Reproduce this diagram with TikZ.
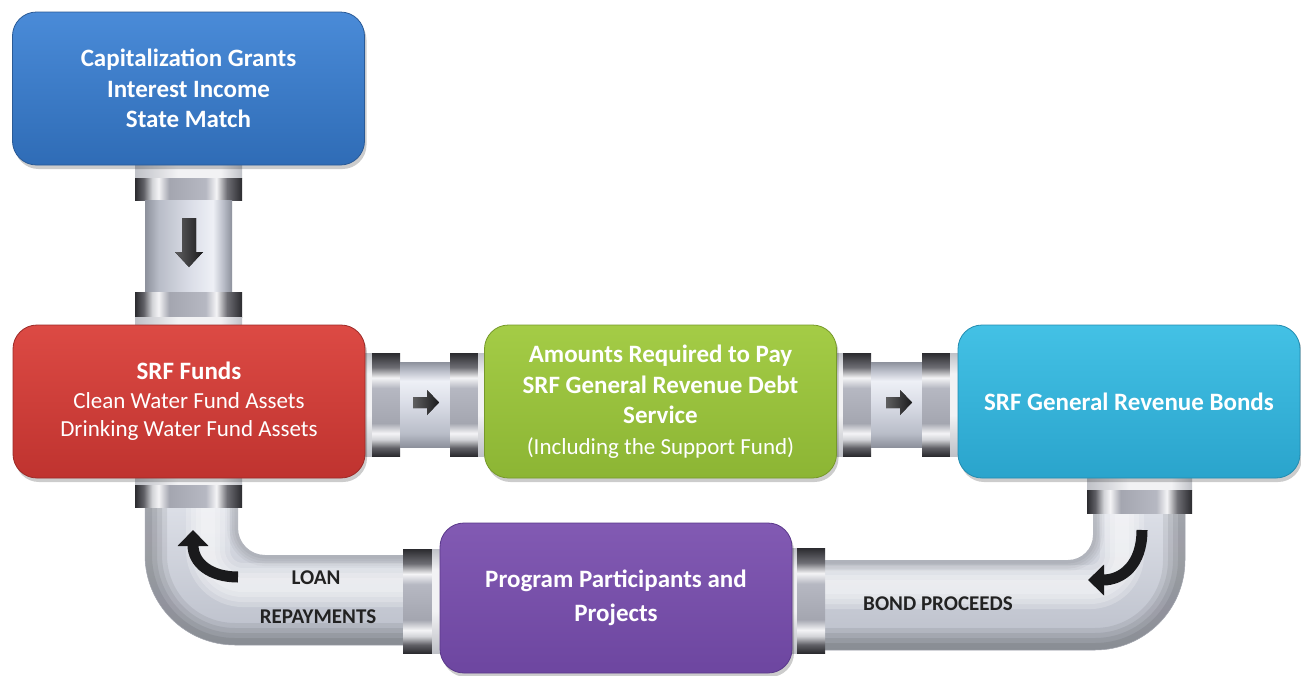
\documentclass[tikz,border=0pt]{standalone}
\usepackage{fontspec}
\setmainfont{Carlito}
\usetikzlibrary{shadows,arrows.meta}
\definecolor{pA}{HTML}{8D919C}
\definecolor{pB}{HTML}{B9BDC8}
\definecolor{pC}{HTML}{D9DCE6}
\definecolor{pD}{HTML}{EEF0F6}
\definecolor{fA}{HTML}{2B2B2F}
\definecolor{fB}{HTML}{606066}
\definecolor{fC}{HTML}{D2D3D7}
\definecolor{fD}{HTML}{F4F4F6}
\definecolor{fE}{HTML}{A4A6B0}
\definecolor{fF}{HTML}{B6B8C2}
\definecolor{fG}{HTML}{6E6E74}
\definecolor{cA}{HTML}{BFC1C7}
\definecolor{cB}{HTML}{F2F2F4}
\definecolor{eA}{HTML}{DCDFE7}
\definecolor{eB}{HTML}{BBBFCA}
\definecolor{arr}{HTML}{1A1A1C}
\definecolor{lbl}{HTML}{222222}
\definecolor{blueT}{HTML}{4A8BD8}\definecolor{blueB}{HTML}{2F6CB6}\definecolor{blueD}{HTML}{2A5A96}
\definecolor{redT}{HTML}{DC4A44}\definecolor{redB}{HTML}{BF332F}\definecolor{redD}{HTML}{9C2A27}
\definecolor{greenT}{HTML}{A4CC46}\definecolor{greenB}{HTML}{8CB534}\definecolor{greenD}{HTML}{76992A}
\definecolor{cyanT}{HTML}{43C1E5}\definecolor{cyanB}{HTML}{2AA4CC}\definecolor{cyanD}{HTML}{228CB0}
\definecolor{purT}{HTML}{825AB3}\definecolor{purB}{HTML}{6D46A0}\definecolor{purD}{HTML}{5A388A}
\pgfdeclarehorizontalshading{pipeshade}{100bp}{color(0bp)=(pA); color(25bp)=(pA); color(33bp)=(pB); color(50bp)=(pC); color(64bp)=(pD); color(70bp)=(pB); color(75bp)=(pA); color(100bp)=(pA)}
\pgfdeclarehorizontalshading{flangeshade}{100bp}{color(0bp)=(fA); color(25bp)=(fA); color(29bp)=(fB); color(33bp)=(fC); color(36bp)=(fD); color(41bp)=(fE); color(58bp)=(fF); color(63bp)=(fD); color(68bp)=(fG); color(75bp)=(fA); color(100bp)=(fA)}
\pgfdeclarehorizontalshading{collarshade}{100bp}{color(0bp)=(cA); color(25bp)=(cA); color(45bp)=(cB); color(65bp)=(cB); color(75bp)=(cA); color(100bp)=(cA)}
\tikzset{
  box/.style n args={3}{rounded corners=24pt, minimum width=352pt, minimum height=153pt,
    inner sep=0pt, align=center, text=white, draw=#3, line width=0.8pt,
    top color=#1, bottom color=#2,
    drop shadow={shadow xshift=2pt, shadow yshift=-4pt, fill=black, opacity=0.2}},
  bigfont/.style={font=\fontsize{25}{30.5}\selectfont\bfseries},
  vflange/.style={shading=flangeshade},
  hflange/.style={shading=flangeshade, shading angle=90},
  vbody/.style={shading=pipeshade},
  hbody/.style={shading=pipeshade, shading angle=90},
  vcollar/.style={shading=collarshade},
  hcollar/.style={shading=collarshade, shading angle=90},
  elbowfill/.style={top color=eA, bottom color=eB},
  blockarrow/.style={left color=arr!70!white, right color=arr},
  curvearrow/.style={draw=arr, line width=11pt, -{Triangle[width=30pt,length=16pt]}},
  pipelabel/.style={text=lbl, font=\fontsize{21}{26}\selectfont\bfseries, inner sep=0pt},
  soft/.style={line cap=butt},
}
\begin{document}
\begin{tikzpicture}[x=1pt,y=-1pt]
\useasboundingbox (0,0) rectangle (1301,675);
\fill[white] (0,0) rectangle (1301,675);

% ---- vertical pipe between blue and red ----
\shade[vcollar] (135,164) rectangle (242,178);
\shade[vflange] (135,178) rectangle (242,200);
\shade[vbody] (145,200) rectangle (232,292);
\shade[vflange] (135,292) rectangle (242,317);
\shade[vcollar] (135,317) rectangle (242,327);
\fill[blockarrow] (182,218) -- (196,218) -- (196,252) -- (203,252) -- (189,267) -- (175,252) -- (182,252) -- cycle;

% ---- horizontal pipe red -> green ----
\shade[hcollar] (363,353) rectangle (372,456);
\shade[hflange] (372,353) rectangle (400,456);
\shade[hbody] (400,362) rectangle (450,447);
\shade[hflange] (450,353) rectangle (478,456);
\shade[hcollar] (478,353) rectangle (487,456);
\fill[blockarrow] (413,397) -- (427,397) -- (427,390) -- (439,402.5) -- (427,415) -- (427,408) -- (413,408) -- cycle;

% ---- horizontal pipe green -> cyan ----
\shade[hcollar] (834,353) rectangle (843,456);
\shade[hflange] (843,353) rectangle (871,456);
\shade[hbody] (871,362) rectangle (922,447);
\shade[hflange] (922,353) rectangle (950,456);
\shade[hcollar] (950,353) rectangle (960,456);
\fill[blockarrow] (886,397) -- (900,397) -- (900,390) -- (912,402.5) -- (900,415) -- (900,408) -- (886,408) -- cycle;

% ---- left elbow (loan repayments) ----
\shade[elbowfill] (145,505) -- (145,555) arc[start angle=180,end angle=90,radius=90] -- (405,645) -- (405,555) -- (265,555) arc[start angle=90,end angle=180,radius=27] -- (238,505) -- cycle;
\begin{scope}
\clip (145,505) -- (145,555) arc[start angle=180,end angle=90,radius=90] -- (405,645) -- (405,555) -- (265,555) arc[start angle=90,end angle=180,radius=27] -- (238,505) -- cycle;
\foreach \w in {44,34,24,14}{
  \draw[soft, black, opacity=0.07, line width=\w pt] (145,500) -- (145,555) arc[start angle=180,end angle=90,radius=90] -- (410,645);
  \draw[soft, black, opacity=0.04, line width=0.5*\w pt] (238,500) -- (238,528) arc[start angle=180,end angle=90,radius=27] -- (410,555);
  \draw[soft, white, opacity=0.22, line width=\w pt] (208,500) -- (208,550) arc[start angle=180,end angle=90,radius=35] -- (410,585);
}
\end{scope}
\draw[pA!80!white, line width=0.5pt] (145,505) -- (145,555) arc[start angle=180,end angle=90,radius=90] -- (405,645);
\shade[vcollar] (135,476) rectangle (242,485);
\shade[vflange] (135,485) rectangle (242,507);
\shade[hflange] (403,549) rectangle (432,653);
\shade[hcollar] (432,549) rectangle (442,653);
\draw[curvearrow] (238,577) .. controls (210,577) and (193,563) .. (193,530);
\node[pipelabel] (loan) at (316,578) {LOAN};
\node[pipelabel] (repay) at (318,617) {REPAYMENTS};

% ---- right elbow (bond proceeds) ----
\shade[elbowfill] (1093,511) -- (1093,535) arc[start angle=0,end angle=90,radius=25] -- (825,560) -- (825,650) -- (1095,650) arc[start angle=90,end angle=0,radius=90] -- (1185,511) -- cycle;
\begin{scope}
\clip (1093,511) -- (1093,535) arc[start angle=0,end angle=90,radius=25] -- (825,560) -- (825,650) -- (1095,650) arc[start angle=90,end angle=0,radius=90] -- (1185,511) -- cycle;
\foreach \w in {44,34,24,14}{
  \draw[soft, black, opacity=0.07, line width=\w pt] (1185,505) -- (1185,560) arc[start angle=0,end angle=90,radius=90] -- (820,650);
  \draw[soft, black, opacity=0.04, line width=0.5*\w pt] (1093,505) -- (1093,535) arc[start angle=0,end angle=90,radius=25] -- (820,560);
  \draw[soft, white, opacity=0.22, line width=\w pt] (1122,505) -- (1122,555) arc[start angle=0,end angle=90,radius=32] -- (820,587);
}
\end{scope}
\draw[pA!80!white, line width=0.5pt] (825,650) -- (1095,650) arc[start angle=90,end angle=0,radius=90] -- (1185,511);
\shade[vcollar] (1087,476) rectangle (1192,490);
\shade[vflange] (1087,490) rectangle (1192,513);
\shade[hcollar] (790,548) rectangle (797,653);
\shade[hflange] (797,548) rectangle (825,653);
\draw[curvearrow] (1142,530) .. controls (1142,565) and (1122,580) .. (1088,580);
\node[pipelabel] (bond) at (938,604) {BOND PROCEEDS};

% ---- boxes ----
\node[box={blueT}{blueB}{blueD}, bigfont] (cap) at (188.5,88.5)
  {Capitalization Grants\\Interest Income\\State Match};
\node[box={redT}{redB}{redD}, font=\fontsize{23}{28.5}\selectfont] (srf) at (189,401.5)
  {{\fontsize{25}{28.5}\selectfont\bfseries SRF Funds}\\Clean Water Fund Assets\\Drinking Water Fund Assets};
\node[box={greenT}{greenB}{greenD}, bigfont] (debt) at (660.5,401.5)
  {Amounts Required to Pay\\SRF General Revenue Debt\\Service\\{\mdseries\fontsize{23}{30.5}\selectfont (Including the Support Fund)}};
\node[box={cyanT}{cyanB}{cyanD}, bigfont, minimum width=342pt] (bonds) at (1129,401.5)
  {SRF General Revenue Bonds};
\node[box={purT}{purB}{purD}, font=\fontsize{25}{34}\selectfont\bfseries, minimum height=150pt] (prog) at (616,598)
  {Program Participants and\\Projects};
\end{tikzpicture}
\end{document}
